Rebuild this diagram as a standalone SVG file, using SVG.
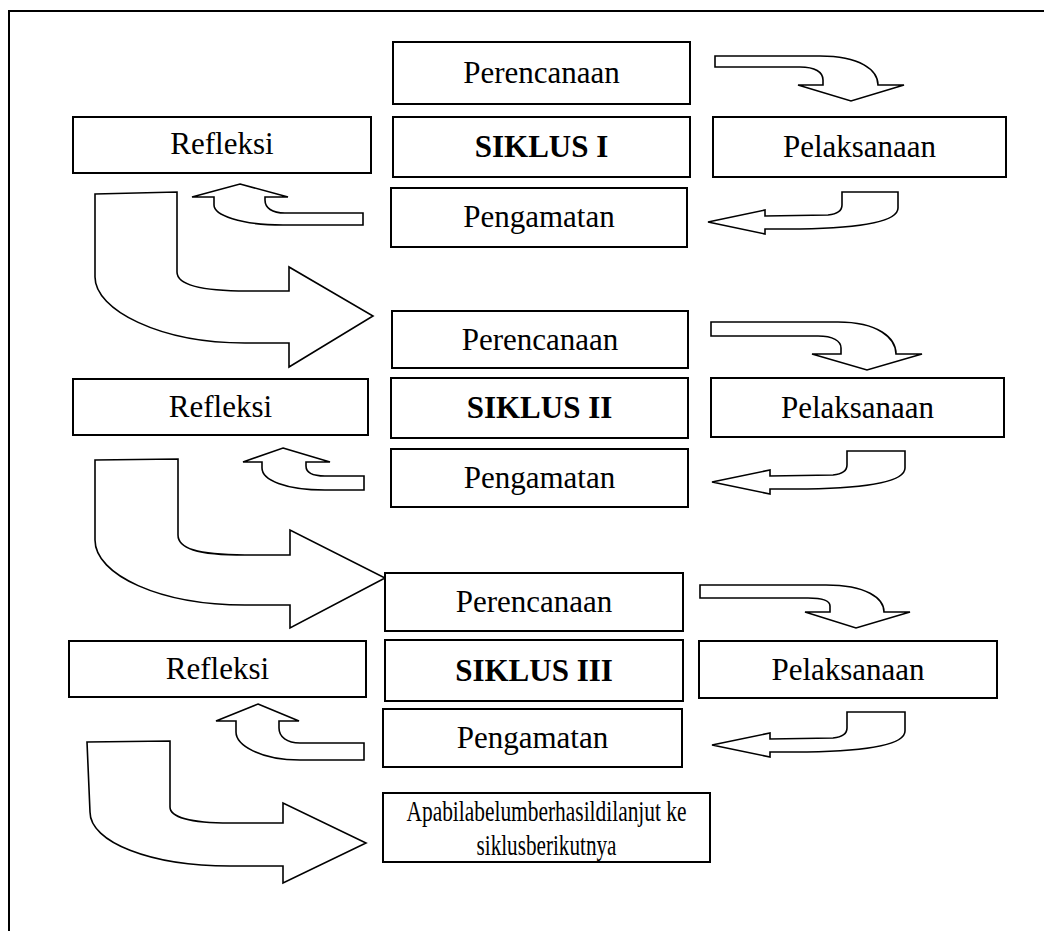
<svg xmlns="http://www.w3.org/2000/svg" width="1044" height="931" viewBox="0 0 1044 931">
<style>
.box{fill:#fff;stroke:#000;stroke-width:2}
.t{font-family:"Liberation Serif","Times New Roman",serif;font-size:31px;text-anchor:middle;fill:#000}
.b{font-weight:bold}
.s{font-size:29px}
.arr{fill:#fff;stroke:#000;stroke-width:1.6;stroke-linejoin:miter}
</style>
<rect width="1044" height="931" fill="#fff"/>
<path d="M9,940 L9,11 L1050,11" fill="none" stroke="#000" stroke-width="2"/>

<g id="connectors">
  <!-- cycle 1 -->
  <path class="arr" d="M715,56 L820,56 C860,56 878,70 878,85 L904,85 L851,101 L798,85 L823,85 L823,80 C823,72 815,67 800,67 L715,67 Z"/>
  <path class="arr" d="M708,222 L765,210 L765,216 L828,215 C838,214 842,211 842,205 L842,192 L898,192 L898,208 C898,222 860,228 800,229 L765,229 L765,234 Z"/>
  <path class="arr" d="M240,184 L288,197 L265,197 L265,200 C265,208 272,213 285,213 L363,213 L363,225 L283,225 C240,225 214,215 214,205 L214,197 L192,197 Z"/>
  <path class="arr" d="M95,194 L177,192 L177,272 C177,285 200,291 247,291 L289,291 L289,267 L373,316 L289,367 L289,343 L245,343 C160,343 95,310 95,277 Z"/>
  <!-- cycle 2 -->
  <path class="arr" d="M711,322 L838,322 C878,322 896,338 896,354 L922,354 L867,370 L812,354 L841,354 L841,348 C841,341 833,336 818,336 L711,336 Z"/>
  <path class="arr" d="M712,482 L770,470 L770,476 L833,475 C843,474 847,471 847,465 L847,451 L905,451 L905,468 C905,482 867,488 807,489 L770,489 L770,494 Z"/>
  <path class="arr" d="M283,448 L330,462 L306,462 L306,466 C306,472 312,476 325,476 L364,476 L364,490 L325,490 C285,490 262,480 262,468 L262,462 L243,462 Z"/>
  <path class="arr" d="M95,460 L178,459 L178,535 C178,548 196,555 245,555 L290,555 L290,530 L385,578 L290,628 L290,605 L245,605 C160,605 95,575 95,540 Z"/>
  <!-- cycle 3 -->
  <path class="arr" d="M700,585 L826,585 C866,585 884,598 884,612 L910,612 L856,628 L805,612 L830,612 L830,606 C830,601 822,598 808,598 L700,598 Z"/>
  <path class="arr" d="M712,745 L770,733 L770,739 L833,738 C843,737 847,734 847,728 L847,712 L905,712 L905,731 C905,745 867,751 807,752 L770,752 L770,757 Z"/>
  <path class="arr" d="M258,704 L299,721 L279,721 L279,728 C279,737 287,743 300,743 L364,743 L364,760 L300,760 C260,760 236,745 236,732 L236,721 L216,721 Z"/>
  <path class="arr" d="M87,742 L170,741 L170,807 C170,817 190,823 230,823 L283,823 L283,803 L366,843 L283,883 L283,866 L230,866 C150,866 90,842 90,812 Z"/>
</g>

<g id="perencanaan1"><rect class="box" x="393" y="42" width="297" height="62"/><text class="t" x="541.5" y="83">Perencanaan</text></g>
<g id="siklus1"><rect class="box" x="393" y="117" width="297" height="60"/><text class="t b" x="541.5" y="157">SIKLUS I</text></g>
<g id="pengamatan1"><rect class="box" x="391" y="188" width="296" height="59"/><text class="t" x="539" y="227">Pengamatan</text></g>
<g id="refleksi1"><rect class="box" x="73" y="117" width="298" height="56"/><text class="t" x="222" y="154">Refleksi</text></g>
<g id="pelaksanaan1"><rect class="box" x="713" y="117" width="293" height="60"/><text class="t" x="859.5" y="157">Pelaksanaan</text></g>

<g id="perencanaan2"><rect class="box" x="392" y="311" width="296" height="57"/><text class="t" x="540" y="350">Perencanaan</text></g>
<g id="siklus2"><rect class="box" x="391" y="378" width="297" height="60"/><text class="t b" x="539.5" y="418">SIKLUS II</text></g>
<g id="pengamatan2"><rect class="box" x="391" y="449" width="297" height="58"/><text class="t" x="539.5" y="488">Pengamatan</text></g>
<g id="refleksi2"><rect class="box" x="73" y="379" width="295" height="56"/><text class="t" x="220.5" y="417">Refleksi</text></g>
<g id="pelaksanaan2"><rect class="box" x="711" y="378" width="293" height="59"/><text class="t" x="857.5" y="418">Pelaksanaan</text></g>

<g id="perencanaan3"><rect class="box" x="385" y="573" width="298" height="58"/><text class="t" x="534" y="612">Perencanaan</text></g>
<g id="siklus3"><rect class="box" x="385" y="640" width="298" height="61"/><text class="t b" x="534" y="681">SIKLUS III</text></g>
<g id="pengamatan3"><rect class="box" x="383" y="709" width="299" height="58"/><text class="t" x="532.5" y="748">Pengamatan</text></g>
<g id="refleksi3"><rect class="box" x="69" y="641" width="297" height="56"/><text class="t" x="217.5" y="679">Refleksi</text></g>
<g id="pelaksanaan3"><rect class="box" x="699" y="641" width="298" height="57"/><text class="t" x="848" y="680">Pelaksanaan</text></g>

<g id="lanjut"><rect class="box" x="383" y="793" width="327" height="69"/><text class="t s" x="546.5" y="821" textLength="280" lengthAdjust="spacingAndGlyphs">Apabilabelumberhasildilanjut ke</text><text class="t s" x="546.5" y="855" textLength="140" lengthAdjust="spacingAndGlyphs">siklusberikutnya</text></g>
</svg>
